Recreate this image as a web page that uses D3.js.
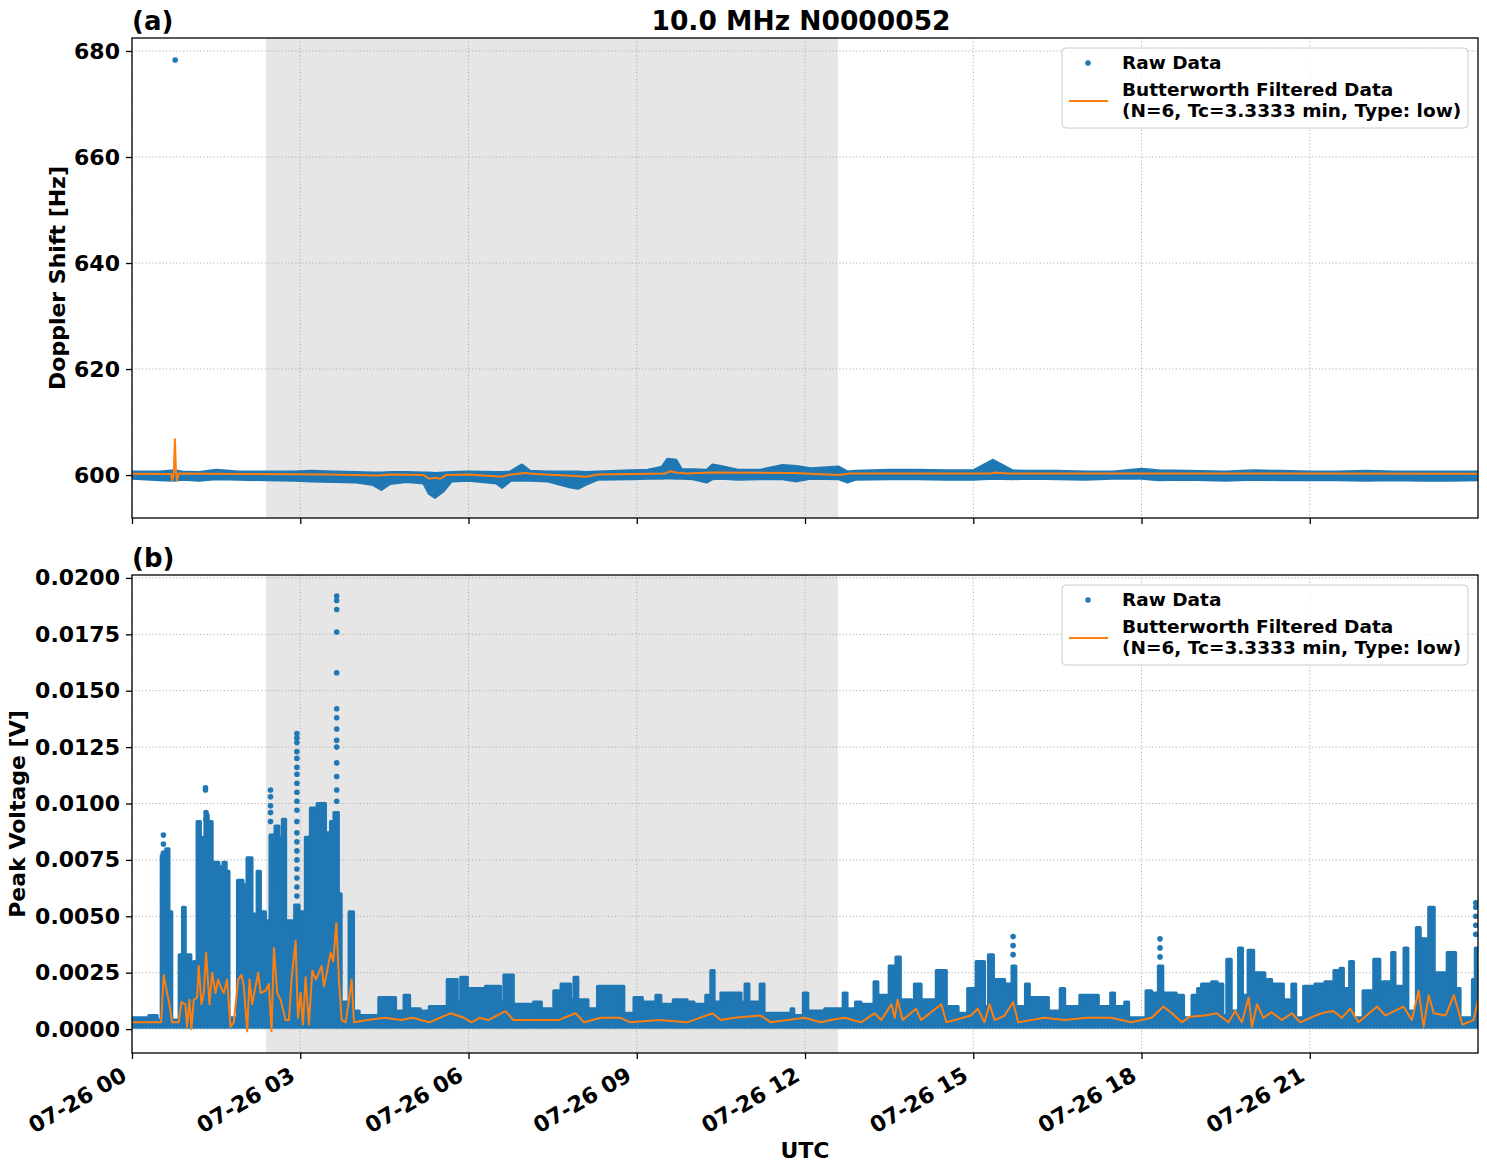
<!DOCTYPE html>
<html>
<head>
<meta charset="utf-8">
<script src="https://cdn.jsdelivr.net/npm/d3@7"></script>
<style>
  body { margin: 0; background: #fff; }
  text { font-family: "DejaVu Sans", sans-serif; font-weight: bold; }
</style>
</head>
<body>
<svg id="chart"></svg>
<script>
// ---- data ----
// time values are hours after 07-26 00:00 UTC

// panel (a): Doppler shift raw envelope (upper / lower edge of the dot band)
const rawTimesA = [0, 0.5, 0.75, 0.9, 1.2, 1.5, 1.9, 2.4, 2.9, 3.2, 3.6, 4.0, 4.3, 4.45, 4.6, 4.9, 5.2, 5.3, 5.4, 5.55, 5.7, 6.0, 6.5, 6.6, 6.75, 6.95, 7.1, 7.4, 7.8, 7.95, 8.1, 8.3, 8.9, 9.2, 9.45, 9.55, 9.7, 9.8, 10.0, 10.25, 10.35, 10.5, 10.8, 11.2, 11.6, 11.85, 12.1, 12.6, 12.75, 12.9, 13.5, 14.0, 14.5, 15.0, 15.35, 15.7, 16.0, 16.5, 17.0, 17.5, 18.0, 18.3, 18.8, 19.5, 20.0, 20.5, 21.0, 21.5, 22.0, 22.5, 23.0, 23.5, 24.0];
const rawHighA = [600.6, 600.6, 600.8, 600.6, 600.5, 600.9, 600.6, 600.6, 600.6, 600.7, 600.6, 600.5, 600.4, 600.4, 600.5, 600.5, 600.4, 600.4, 600.3, 600.4, 600.5, 600.6, 600.5, 600.5, 600.6, 601.9, 600.7, 600.6, 600.6, 600.6, 600.5, 600.6, 600.8, 600.9, 601.5, 603.0, 602.8, 601.0, 601.0, 600.9, 601.9, 601.6, 600.9, 600.9, 601.8, 601.6, 601.2, 601.5, 600.6, 600.7, 600.9, 600.9, 600.8, 600.8, 602.8, 600.8, 600.7, 600.7, 600.6, 600.6, 601.1, 600.8, 600.7, 600.6, 600.8, 600.7, 600.6, 600.6, 600.7, 600.6, 600.6, 600.6, 600.6];
const rawLowA = [599.4, 599.1, 599.0, 599.2, 599.0, 599.3, 599.2, 599.1, 599.0, 598.9, 598.8, 598.7, 598.2, 597.3, 598.4, 598.8, 598.5, 596.5, 595.8, 597.0, 598.9, 599.0, 598.5, 597.7, 599.0, 599.0, 599.0, 598.9, 597.8, 597.5, 598.3, 599.2, 599.3, 599.4, 599.4, 599.5, 599.4, 599.4, 599.3, 598.7, 599.3, 599.4, 599.2, 599.3, 599.3, 598.9, 599.4, 599.3, 598.7, 599.2, 599.3, 599.3, 599.2, 599.2, 599.4, 599.3, 599.4, 599.3, 599.2, 599.4, 599.4, 599.1, 599.2, 599.0, 599.2, 599.1, 599.1, 599.1, 599.0, 599.1, 599.0, 599.0, 599.1];
const outlierTimesA = [0.77];
const outlierValsA = [678.3];

// panel (a): Butterworth filtered Doppler
const filtTimesA = [0, 0.70, 0.72, 0.745, 0.765, 0.785, 0.80, 0.83, 2.0, 3.5, 4.4, 4.6, 5.2, 5.3, 5.4, 5.5, 5.6, 6.0, 6.6, 6.7, 7.0, 7.2, 7.9, 8.1, 8.3, 9.5, 9.6, 9.7, 9.9, 10.3, 11.8, 12.6, 12.8, 15.3, 15.4, 15.6, 18.3, 24.0];
const filtA = [600.25, 600.2, 598.9, 600.5, 606.9, 600.5, 598.9, 600.3, 600.2, 600.1, 599.9, 600.1, 600.0, 599.3, 599.5, 599.3, 600.0, 600.1, 599.7, 600.0, 600.4, 600.2, 599.8, 599.7, 600.1, 600.3, 600.7, 600.5, 600.3, 600.5, 600.4, 600.0, 600.3, 600.3, 600.5, 600.3, 600.3, 600.25];

// panel (b): peak voltage raw upper edge (dense part), floor of the dots
const rawTimesB = [0.00, 0.30, 0.45, 0.52, 0.60, 0.66, 0.71, 0.84, 0.90, 0.95, 1.05, 1.10, 1.16, 1.22, 1.30, 1.36, 1.43, 1.55, 1.62, 1.68, 1.73, 1.88, 1.98, 2.05, 2.14, 2.23, 2.29, 2.38, 2.46, 2.52, 2.55, 2.62, 2.68, 2.74, 2.86, 2.90, 2.98, 3.09, 3.18, 3.30, 3.45, 3.54, 3.60, 3.68, 3.73, 3.87, 3.95, 4.05, 4.40, 4.70, 4.85, 4.95, 5.14, 5.30, 5.62, 5.80, 5.86, 5.98, 6.30, 6.57, 6.63, 6.80, 7.16, 7.30, 7.52, 7.65, 7.82, 7.88, 7.95, 8.13, 8.30, 8.77, 8.95, 9.10, 9.34, 9.43, 9.65, 9.90, 10.02, 10.23, 10.32, 10.38, 10.50, 10.86, 10.93, 11.00, 11.20, 11.27, 11.75, 11.80, 11.97, 12.05, 12.35, 12.68, 12.75, 12.90, 13.00, 13.23, 13.30, 13.50, 13.62, 13.70, 13.90, 13.95, 14.07, 14.34, 14.52, 14.73, 14.90, 15.05, 15.20, 15.27, 15.36, 15.56, 15.69, 15.76, 15.93, 16.00, 16.34, 16.55, 16.63, 16.90, 17.23, 17.45, 17.52, 17.70, 17.77, 18.08, 18.18, 18.30, 18.38, 18.62, 18.66, 18.75, 18.90, 19.00, 19.07, 19.25, 19.35, 19.45, 19.52, 19.60, 19.73, 19.80, 19.90, 20.00, 20.20, 20.32, 20.53, 20.68, 20.75, 20.89, 21.09, 21.27, 21.43, 21.50, 21.54, 21.60, 21.71, 21.78, 21.95, 22.14, 22.25, 22.30, 22.46, 22.52, 22.68, 22.75, 22.90, 22.97, 23.12, 23.22, 23.45, 23.60, 23.68, 23.90, 23.95, 24.05];
const rawHighB = [0.0005, 0.0006, 0.0004, 0.0077, 0.0080, 0.0052, 0.0004, 0.0033, 0.0054, 0.0033, 0.0025, 0.0030, 0.0092, 0.0085, 0.0095, 0.0092, 0.0074, 0.0072, 0.0074, 0.0070, 0.0005, 0.0066, 0.0064, 0.0076, 0.0051, 0.0070, 0.0052, 0.0048, 0.0086, 0.0065, 0.0090, 0.0085, 0.0093, 0.0048, 0.0030, 0.0055, 0.0052, 0.0085, 0.0098, 0.0100, 0.0087, 0.0092, 0.0096, 0.0060, 0.0012, 0.0052, 0.0008, 0.0006, 0.0014, 0.0008, 0.0015, 0.0009, 0.0008, 0.0010, 0.0022, 0.0012, 0.0023, 0.0018, 0.0019, 0.0012, 0.0024, 0.0011, 0.0012, 0.0009, 0.0017, 0.0020, 0.0013, 0.0023, 0.0013, 0.0009, 0.0019, 0.0007, 0.0014, 0.0012, 0.0015, 0.0011, 0.0013, 0.0012, 0.0011, 0.0015, 0.0026, 0.0012, 0.0016, 0.0012, 0.0020, 0.0012, 0.0020, 0.0007, 0.0009, 0.0006, 0.0016, 0.0008, 0.0009, 0.0016, 0.0009, 0.0012, 0.0011, 0.0021, 0.0015, 0.0028, 0.0032, 0.0013, 0.0008, 0.0020, 0.0013, 0.0026, 0.0010, 0.0007, 0.0018, 0.0030, 0.0010, 0.0033, 0.0022, 0.0020, 0.0028, 0.0010, 0.0020, 0.0014, 0.0008, 0.0018, 0.0010, 0.0015, 0.0010, 0.0016, 0.0010, 0.0012, 0.0005, 0.0017, 0.0016, 0.0028, 0.0016, 0.0006, 0.0015, 0.0005, 0.0015, 0.0018, 0.0020, 0.0021, 0.0020, 0.0006, 0.0031, 0.0008, 0.0036, 0.0015, 0.0035, 0.0025, 0.0022, 0.0020, 0.0013, 0.0020, 0.0005, 0.0019, 0.0020, 0.0021, 0.0026, 0.0018, 0.0027, 0.0018, 0.0030, 0.0005, 0.0017, 0.0031, 0.0017, 0.0021, 0.0034, 0.0019, 0.0036, 0.0008, 0.0045, 0.0040, 0.0054, 0.0025, 0.0034, 0.0018, 0.0005, 0.0022, 0.0036, 0.0036];
const rawFloorB = 0.00008;

// panel (b): isolated dots sticking out above the dense columns
const outlierTimesB = [0.56, 0.56, 0.56, 1.31, 1.31, 1.32, 1.32, 2.47, 2.47, 2.47, 2.47, 2.47, 2.94, 2.94, 2.94, 2.94, 2.94, 2.94, 2.94, 2.94, 2.94, 2.94, 2.94, 2.94, 2.94, 2.94, 2.94, 2.94, 2.94, 2.94, 2.94, 2.94, 3.65, 3.65, 3.65, 3.65, 3.65, 3.65, 3.65, 3.65, 3.65, 3.65, 3.65, 3.65, 3.65, 3.65, 15.71, 15.71, 15.71, 18.33, 18.33, 18.33, 23.96, 23.96, 23.96, 23.96, 23.96];
const outlierValsB = [0.0086, 0.0082, 0.0078, 0.0107, 0.0106, 0.0096, 0.0093, 0.0106, 0.0103, 0.0099, 0.0096, 0.0092, 0.0131, 0.0129, 0.0127, 0.0123, 0.0120, 0.0116, 0.0113, 0.0109, 0.0105, 0.0101, 0.0097, 0.0092, 0.0087, 0.0083, 0.0079, 0.0075, 0.0071, 0.0067, 0.0063, 0.0059, 0.0192, 0.0190, 0.0186, 0.0176, 0.0158, 0.0142, 0.0138, 0.0133, 0.0128, 0.0125, 0.0118, 0.0112, 0.0106, 0.0101, 0.0041, 0.0037, 0.0033, 0.0040, 0.0036, 0.0032, 0.0056, 0.0054, 0.0050, 0.0046, 0.0042];

// panel (b): Butterworth filtered peak voltage
const filtTimesB = [0.00, 0.50, 0.52, 0.565, 0.625, 0.667, 0.714, 0.833, 0.881, 0.952, 0.982, 1.024, 1.060, 1.101, 1.161, 1.190, 1.238, 1.280, 1.321, 1.381, 1.429, 1.488, 1.536, 1.577, 1.637, 1.696, 1.756, 1.815, 1.893, 1.952, 1.994, 2.054, 2.095, 2.143, 2.25, 2.292, 2.381, 2.440, 2.488, 2.530, 2.589, 2.649, 2.738, 2.798, 2.845, 2.917, 2.958, 3.006, 3.048, 3.095, 3.155, 3.214, 3.274, 3.333, 3.381, 3.423, 3.482, 3.542, 3.589, 3.643, 3.690, 3.738, 3.810, 3.869, 3.917, 3.958, 4.2, 4.5, 4.8, 5.0, 5.3, 5.68, 5.92, 6.05, 6.2, 6.35, 6.66, 6.8, 7.23, 7.6, 7.91, 8.06, 8.36, 8.71, 8.89, 9.4, 9.9, 10.35, 10.5, 10.74, 11.21, 11.39, 11.99, 12.28, 12.46, 12.70, 13.0, 13.24, 13.36, 13.54, 13.6, 13.65, 13.74, 13.98, 14.07, 14.43, 14.52, 14.96, 15.08, 15.20, 15.29, 15.38, 15.56, 15.71, 15.80, 16.27, 16.63, 17.02, 17.46, 17.82, 18.18, 18.39, 18.54, 18.72, 18.86, 19.13, 19.34, 19.55, 19.67, 19.79, 19.91, 19.97, 20.06, 20.17, 20.32, 20.5, 20.68, 20.83, 21.1, 21.28, 21.42, 21.57, 21.72, 21.87, 22.2, 22.35, 22.47, 22.67, 22.82, 22.94, 23.03, 23.12, 23.21, 23.42, 23.57, 23.72, 23.92, 24.01];
const filtB = [0.0003, 0.0003, 0.0003, 0.0024, 0.0016, 0.0011, 0.0003, 0.0003, 0.0012, 0.0011, 0.0001, 0.0013, 0.0000, 0.0013, 0.0014, 0.0028, 0.0011, 0.0016, 0.0034, 0.0011, 0.0025, 0.0016, 0.0022, 0.0019, 0.0016, 0.0022, 0.0001, 0.0003, 0.0022, 0.0024, 0.0019, -0.0001, 0.0022, 0.0011, 0.0025, 0.0016, 0.0017, 0.0020, -0.0001, 0.0036, 0.0016, 0.0013, 0.0004, 0.0004, 0.0022, 0.0039, 0.0005, 0.0016, 0.0002, 0.0023, 0.0002, 0.0026, 0.0022, 0.0025, 0.0028, 0.0019, 0.0026, 0.0034, 0.0030, 0.0047, 0.0022, 0.0004, 0.0003, 0.0013, 0.0022, 0.0003, 0.0004, 0.0005, 0.0004, 0.0005, 0.0003, 0.0007, 0.0005, 0.0003, 0.0005, 0.0004, 0.0008, 0.0004, 0.0004, 0.0004, 0.0007, 0.0003, 0.0005, 0.0005, 0.0003, 0.0004, 0.0003, 0.0007, 0.0004, 0.0005, 0.0006, 0.0003, 0.0005, 0.0003, 0.0004, 0.0005, 0.0003, 0.0007, 0.0004, 0.0011, 0.0005, 0.0013, 0.0004, 0.0009, 0.0004, 0.0011, 0.0003, 0.0006, 0.0009, 0.0003, 0.0011, 0.0004, 0.0006, 0.0012, 0.0003, 0.0005, 0.0004, 0.0005, 0.0005, 0.0003, 0.0005, 0.0010, 0.0007, 0.0003, 0.00055, 0.0006, 0.0007, 0.0003, 0.0008, 0.0003, 0.0014, 0.0001, 0.0011, 0.0005, 0.00075, 0.0004, 0.0007, 0.0003, 0.0006, 0.00075, 0.0008, 0.0005, 0.0009, 0.0003, 0.0010, 0.0006, 0.00075, 0.0010, 0.0004, 0.0017, 0.0001, 0.0015, 0.0007, 0.0006, 0.0015, 0.0002, 0.0004, 0.0014];

// shaded interval, hours
const shadeStart = 2.39, shadeEnd = 12.59;

const yTicksA = [600, 620, 640, 660, 680];
const yTicksB = [0, 0.0025, 0.005, 0.0075, 0.01, 0.0125, 0.015, 0.0175, 0.02];

// ---- layout ----
const width = 1487, height = 1172;
const plotLeft = 132, plotRight = 1478;
const panelA = { top: 38, bottom: 518 };
const panelB = { top: 575, bottom: 1053 };
const blue = '#1f77b4', orange = '#ff7f0e';

const svg = d3.select('svg#chart').attr('width', width).attr('height', height);

const t0 = Date.UTC(2023, 6, 26);
const toDate = h => new Date(t0 + h * 3600e3);

const x = d3.scaleUtc()
  .domain([toDate(0), toDate(23.9995)])
  .range([plotLeft, plotRight]);

const yA = d3.scaleLinear().domain([591.9, 682.45]).range([panelA.bottom, panelA.top]);
const yB = d3.scaleLinear().domain([-0.00106, 0.02013]).range([panelB.bottom, panelB.top]);

const xTicks = d3.utcHour.every(3).range(toDate(0), toDate(24));

function drawPanel(id, panel, y, yTicks, yFmt) {
  const g = svg.append('g').attr('id', id);

  g.append('clipPath').attr('id', 'clip-' + id)
    .append('rect')
    .attr('x', plotLeft).attr('y', panel.top)
    .attr('width', plotRight - plotLeft).attr('height', panel.bottom - panel.top);

  // shaded interval
  g.append('rect')
    .attr('x', x(toDate(shadeStart)))
    .attr('y', panel.top)
    .attr('width', x(toDate(shadeEnd)) - x(toDate(shadeStart)))
    .attr('height', panel.bottom - panel.top)
    .attr('fill', '#e6e6e6');

  // grid
  const grid = g.append('g').attr('class', 'grid')
    .attr('stroke', '#b0b0b0').attr('stroke-width', 1).attr('stroke-dasharray', '1.2,2.2');
  grid.selectAll('line.gx').data(xTicks).enter().append('line')
    .attr('x1', d => x(d)).attr('x2', d => x(d))
    .attr('y1', panel.top).attr('y2', panel.bottom);
  grid.selectAll('line.gy').data(yTicks).enter().append('line')
    .attr('x1', plotLeft).attr('x2', plotRight)
    .attr('y1', d => y(d)).attr('y2', d => y(d));

  const plot = g.append('g').attr('clip-path', 'url(#clip-' + id + ')');

  // y axis
  const yAxis = d3.axisLeft(y).tickValues(yTicks).tickFormat(yFmt).tickSize(6).tickPadding(6);
  const ya = g.append('g').attr('transform', `translate(${plotLeft},0)`).call(yAxis);
  ya.select('.domain').remove();
  ya.selectAll('line').attr('stroke', '#000').attr('stroke-width', 1.3);
  ya.selectAll('text').attr('font-size', 22).attr('fill', '#000')
    .style('font-family', '"DejaVu Sans", sans-serif').style('font-weight', 'bold');

  // x axis ticks
  const xAxis = d3.axisBottom(x).tickValues(xTicks).tickSize(6).tickFormat('');
  const xa = g.append('g').attr('transform', `translate(0,${panel.bottom})`).call(xAxis);
  xa.select('.domain').remove();
  xa.selectAll('line').attr('stroke', '#000').attr('stroke-width', 1.3);

  return { g, plot };
}

// ---------- panel (a) ----------
const pa = drawPanel('pa', panelA, yA, yTicksA, d3.format('d'));

const bandA = rawTimesA.map((t, i) => ({ t, hi: rawHighA[i], lo: rawLowA[i] }));
pa.plot.append('path')
  .datum(bandA)
  .attr('d', d3.area().x(d => x(toDate(d.t))).y0(d => yA(d.lo)).y1(d => yA(d.hi)))
  .attr('fill', blue).attr('stroke', blue).attr('stroke-width', 3).attr('stroke-linejoin', 'round');

pa.plot.selectAll('circle.outA')
  .data(outlierTimesA.map((t, i) => ({ t, v: outlierValsA[i] })))
  .enter().append('circle')
  .attr('cx', d => x(toDate(d.t))).attr('cy', d => yA(d.v)).attr('r', 2.8).attr('fill', blue);

pa.plot.append('path')
  .datum(filtTimesA.map((t, i) => ({ t, v: filtA[i] })))
  .attr('d', d3.line().x(d => x(toDate(d.t))).y(d => yA(d.v)))
  .attr('fill', 'none').attr('stroke', orange).attr('stroke-width', 2);

// ---------- panel (b) ----------
const pb = drawPanel('pb', panelB, yB, yTicksB, d3.format('.4f'));

const colsB = rawTimesB.map((t, i) => ({ t, hi: rawHighB[i] }));
pb.plot.append('path')
  .datum(colsB)
  .attr('d', d3.area().x(d => x(toDate(d.t))).y0(yB(rawFloorB)).y1(d => yB(d.hi)).curve(d3.curveStepAfter))
  .attr('fill', blue).attr('stroke', blue).attr('stroke-width', 3).attr('stroke-linejoin', 'round');

pb.plot.selectAll('circle.outB')
  .data(outlierTimesB.map((t, i) => ({ t, v: outlierValsB[i] })))
  .enter().append('circle')
  .attr('cx', d => x(toDate(d.t))).attr('cy', d => yB(d.v)).attr('r', 2.8).attr('fill', blue);

pb.plot.append('path')
  .datum(filtTimesB.map((t, i) => ({ t, v: filtB[i] })))
  .attr('d', d3.line().x(d => x(toDate(d.t))).y(d => yB(d.v)))
  .attr('fill', 'none').attr('stroke', orange).attr('stroke-width', 2).attr('stroke-linejoin', 'round');

// x tick labels (bottom panel only), rotated 30 deg, right edge at the tick
const fmt = d3.utcFormat('%m-%d %H');
svg.append('g').selectAll('text').data(xTicks).enter().append('text')
  .attr('transform', d => `translate(${x(d) - 12},${panelB.bottom + 12}) rotate(-30)`)
  .attr('text-anchor', 'end')
  .attr('dy', '0.76em')
  .attr('font-size', 22)
  .text(d => fmt(d));

// frames
[panelA, panelB].forEach(p => {
  svg.append('rect')
    .attr('x', plotLeft).attr('y', p.top)
    .attr('width', plotRight - plotLeft).attr('height', p.bottom - p.top)
    .attr('fill', 'none').attr('stroke', '#000').attr('stroke-width', 1.3);
});

// legends
[panelA, panelB].forEach(p => {
  const lg = svg.append('g').attr('transform', `translate(1062,${p.top + 10})`);
  lg.append('rect').attr('x', 0).attr('y', 0).attr('width', 406).attr('height', 80)
    .attr('rx', 4).attr('fill', '#fff').attr('fill-opacity', 0.8)
    .attr('stroke', '#cccccc').attr('stroke-width', 1);
  lg.append('circle').attr('cx', 26).attr('cy', 15).attr('r', 2.8).attr('fill', blue);
  lg.append('line').attr('x1', 7).attr('x2', 46).attr('y1', 53).attr('y2', 53)
    .attr('stroke', orange).attr('stroke-width', 2);
  lg.append('text').attr('x', 60).attr('y', 21).attr('font-size', 18.5).text('Raw Data');
  lg.append('text').attr('x', 60).attr('y', 48).attr('font-size', 18.5).text('Butterworth Filtered Data');
  lg.append('text').attr('x', 60).attr('y', 69).attr('font-size', 18.5).text('(N=6, Tc=3.3333 min, Type: low)');
});

// titles and labels
svg.append('text').attr('x', 801).attr('y', 30).attr('text-anchor', 'middle')
  .attr('font-size', 26.5).text('10.0 MHz N0000052');
svg.append('text').attr('x', plotLeft).attr('y', 30).attr('font-size', 26).text('(a)');
svg.append('text').attr('x', plotLeft).attr('y', 567).attr('font-size', 26).text('(b)');

svg.append('text')
  .attr('transform', `translate(65,${(panelA.top + panelA.bottom) / 2}) rotate(-90)`)
  .attr('text-anchor', 'middle').attr('font-size', 22).text('Doppler Shift [Hz]');
svg.append('text')
  .attr('transform', `translate(25,${(panelB.top + panelB.bottom) / 2}) rotate(-90)`)
  .attr('text-anchor', 'middle').attr('font-size', 22).text('Peak Voltage [V]');
svg.append('text').attr('x', 805).attr('y', 1158).attr('text-anchor', 'middle')
  .attr('font-size', 22).text('UTC');
</script>
</body>
</html>
